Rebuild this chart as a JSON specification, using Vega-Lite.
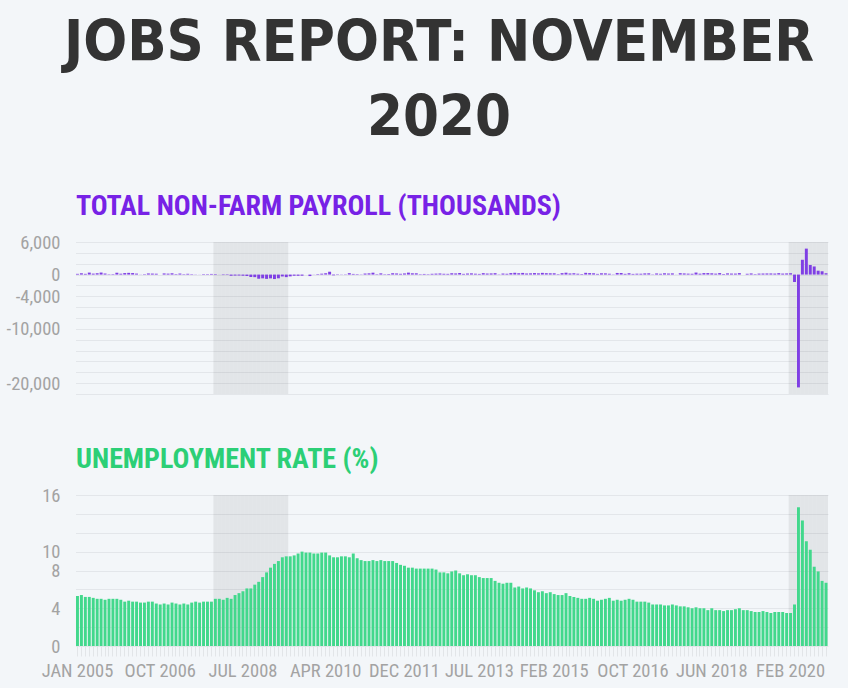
{
  "$schema": "https://vega.github.io/schema/vega-lite/v6.json",
  "background": "#f3f6f9",
  "padding": {"left": 6, "top": 14, "right": 20, "bottom": 8},
  "title": {
    "text": ["JOBS REPORT: NOVEMBER", "2020"],
    "font": "DejaVu Sans Condensed",
    "fontWeight": "bold",
    "fontSize": 57.5,
    "lineHeight": 75,
    "color": "#333333",
    "anchor": "middle",
    "dx": 22,
    "offset": 45
  },
  "data": {
    "values": [
      {"month": "JAN 2005", "payroll": 134, "rate": 5.3, "recession": 0},
      {"month": "FEB 2005", "payroll": 239, "rate": 5.4, "recession": 0},
      {"month": "MAR 2005", "payroll": 134, "rate": 5.2, "recession": 0},
      {"month": "APR 2005", "payroll": 363, "rate": 5.2, "recession": 0},
      {"month": "MAY 2005", "payroll": 175, "rate": 5.1, "recession": 0},
      {"month": "JUN 2005", "payroll": 245, "rate": 5.0, "recession": 0},
      {"month": "JUL 2005", "payroll": 373, "rate": 5.0, "recession": 0},
      {"month": "AUG 2005", "payroll": 196, "rate": 4.9, "recession": 0},
      {"month": "SEP 2005", "payroll": 67, "rate": 5.0, "recession": 0},
      {"month": "OCT 2005", "payroll": 84, "rate": 5.0, "recession": 0},
      {"month": "NOV 2005", "payroll": 337, "rate": 5.0, "recession": 0},
      {"month": "DEC 2005", "payroll": 159, "rate": 4.9, "recession": 0},
      {"month": "JAN 2006", "payroll": 277, "rate": 4.7, "recession": 0},
      {"month": "FEB 2006", "payroll": 315, "rate": 4.8, "recession": 0},
      {"month": "MAR 2006", "payroll": 280, "rate": 4.7, "recession": 0},
      {"month": "APR 2006", "payroll": 182, "rate": 4.7, "recession": 0},
      {"month": "MAY 2006", "payroll": 23, "rate": 4.6, "recession": 0},
      {"month": "JUN 2006", "payroll": 77, "rate": 4.6, "recession": 0},
      {"month": "JUL 2006", "payroll": 207, "rate": 4.7, "recession": 0},
      {"month": "AUG 2006", "payroll": 184, "rate": 4.7, "recession": 0},
      {"month": "SEP 2006", "payroll": 157, "rate": 4.5, "recession": 0},
      {"month": "OCT 2006", "payroll": 2, "rate": 4.4, "recession": 0},
      {"month": "NOV 2006", "payroll": 210, "rate": 4.5, "recession": 0},
      {"month": "DEC 2006", "payroll": 171, "rate": 4.4, "recession": 0},
      {"month": "JAN 2007", "payroll": 236, "rate": 4.6, "recession": 0},
      {"month": "FEB 2007", "payroll": 90, "rate": 4.5, "recession": 0},
      {"month": "MAR 2007", "payroll": 189, "rate": 4.4, "recession": 0},
      {"month": "APR 2007", "payroll": 79, "rate": 4.5, "recession": 0},
      {"month": "MAY 2007", "payroll": 143, "rate": 4.4, "recession": 0},
      {"month": "JUN 2007", "payroll": 78, "rate": 4.6, "recession": 0},
      {"month": "JUL 2007", "payroll": -33, "rate": 4.7, "recession": 0},
      {"month": "AUG 2007", "payroll": -16, "rate": 4.6, "recession": 0},
      {"month": "SEP 2007", "payroll": 85, "rate": 4.7, "recession": 0},
      {"month": "OCT 2007", "payroll": 82, "rate": 4.7, "recession": 0},
      {"month": "NOV 2007", "payroll": 118, "rate": 4.7, "recession": 0},
      {"month": "DEC 2007", "payroll": 97, "rate": 5.0, "recession": 1},
      {"month": "JAN 2008", "payroll": 15, "rate": 5.0, "recession": 1},
      {"month": "FEB 2008", "payroll": -86, "rate": 4.9, "recession": 1},
      {"month": "MAR 2008", "payroll": -80, "rate": 5.1, "recession": 1},
      {"month": "APR 2008", "payroll": -214, "rate": 5.0, "recession": 1},
      {"month": "MAY 2008", "payroll": -182, "rate": 5.4, "recession": 1},
      {"month": "JUN 2008", "payroll": -172, "rate": 5.6, "recession": 1},
      {"month": "JUL 2008", "payroll": -210, "rate": 5.8, "recession": 1},
      {"month": "AUG 2008", "payroll": -259, "rate": 6.1, "recession": 1},
      {"month": "SEP 2008", "payroll": -452, "rate": 6.1, "recession": 1},
      {"month": "OCT 2008", "payroll": -474, "rate": 6.5, "recession": 1},
      {"month": "NOV 2008", "payroll": -765, "rate": 6.8, "recession": 1},
      {"month": "DEC 2008", "payroll": -697, "rate": 7.3, "recession": 1},
      {"month": "JAN 2009", "payroll": -791, "rate": 7.8, "recession": 1},
      {"month": "FEB 2009", "payroll": -703, "rate": 8.3, "recession": 1},
      {"month": "MAR 2009", "payroll": -823, "rate": 8.7, "recession": 1},
      {"month": "APR 2009", "payroll": -687, "rate": 9.0, "recession": 1},
      {"month": "MAY 2009", "payroll": -349, "rate": 9.4, "recession": 1},
      {"month": "JUN 2009", "payroll": -471, "rate": 9.5, "recession": 1},
      {"month": "JUL 2009", "payroll": -329, "rate": 9.5, "recession": 0},
      {"month": "AUG 2009", "payroll": -213, "rate": 9.6, "recession": 0},
      {"month": "SEP 2009", "payroll": -220, "rate": 9.8, "recession": 0},
      {"month": "OCT 2009", "payroll": -204, "rate": 10.0, "recession": 0},
      {"month": "NOV 2009", "payroll": 2, "rate": 9.9, "recession": 0},
      {"month": "DEC 2009", "payroll": -275, "rate": 9.9, "recession": 0},
      {"month": "JAN 2010", "payroll": 23, "rate": 9.8, "recession": 0},
      {"month": "FEB 2010", "payroll": -68, "rate": 9.8, "recession": 0},
      {"month": "MAR 2010", "payroll": 164, "rate": 9.9, "recession": 0},
      {"month": "APR 2010", "payroll": 243, "rate": 9.9, "recession": 0},
      {"month": "MAY 2010", "payroll": 524, "rate": 9.6, "recession": 0},
      {"month": "JUN 2010", "payroll": -137, "rate": 9.4, "recession": 0},
      {"month": "JUL 2010", "payroll": -68, "rate": 9.4, "recession": 0},
      {"month": "AUG 2010", "payroll": -36, "rate": 9.5, "recession": 0},
      {"month": "SEP 2010", "payroll": -52, "rate": 9.5, "recession": 0},
      {"month": "OCT 2010", "payroll": 262, "rate": 9.4, "recession": 0},
      {"month": "NOV 2010", "payroll": 119, "rate": 9.8, "recession": 0},
      {"month": "DEC 2010", "payroll": 87, "rate": 9.3, "recession": 0},
      {"month": "JAN 2011", "payroll": 43, "rate": 9.1, "recession": 0},
      {"month": "FEB 2011", "payroll": 189, "rate": 9.0, "recession": 0},
      {"month": "MAR 2011", "payroll": 225, "rate": 9.0, "recession": 0},
      {"month": "APR 2011", "payroll": 346, "rate": 9.1, "recession": 0},
      {"month": "MAY 2011", "payroll": 77, "rate": 9.0, "recession": 0},
      {"month": "JUN 2011", "payroll": 225, "rate": 9.1, "recession": 0},
      {"month": "JUL 2011", "payroll": 69, "rate": 9.0, "recession": 0},
      {"month": "AUG 2011", "payroll": 110, "rate": 9.0, "recession": 0},
      {"month": "SEP 2011", "payroll": 248, "rate": 9.0, "recession": 0},
      {"month": "OCT 2011", "payroll": 209, "rate": 8.8, "recession": 0},
      {"month": "NOV 2011", "payroll": 141, "rate": 8.6, "recession": 0},
      {"month": "DEC 2011", "payroll": 209, "rate": 8.5, "recession": 0},
      {"month": "JAN 2012", "payroll": 358, "rate": 8.3, "recession": 0},
      {"month": "FEB 2012", "payroll": 237, "rate": 8.3, "recession": 0},
      {"month": "MAR 2012", "payroll": 233, "rate": 8.2, "recession": 0},
      {"month": "APR 2012", "payroll": 78, "rate": 8.2, "recession": 0},
      {"month": "MAY 2012", "payroll": 115, "rate": 8.2, "recession": 0},
      {"month": "JUN 2012", "payroll": 76, "rate": 8.2, "recession": 0},
      {"month": "JUL 2012", "payroll": 143, "rate": 8.2, "recession": 0},
      {"month": "AUG 2012", "payroll": 177, "rate": 8.1, "recession": 0},
      {"month": "SEP 2012", "payroll": 203, "rate": 7.8, "recession": 0},
      {"month": "OCT 2012", "payroll": 146, "rate": 7.8, "recession": 0},
      {"month": "NOV 2012", "payroll": 132, "rate": 7.7, "recession": 0},
      {"month": "DEC 2012", "payroll": 244, "rate": 7.9, "recession": 0},
      {"month": "JAN 2013", "payroll": 211, "rate": 8.0, "recession": 0},
      {"month": "FEB 2013", "payroll": 286, "rate": 7.7, "recession": 0},
      {"month": "MAR 2013", "payroll": 130, "rate": 7.5, "recession": 0},
      {"month": "APR 2013", "payroll": 197, "rate": 7.6, "recession": 0},
      {"month": "MAY 2013", "payroll": 226, "rate": 7.5, "recession": 0},
      {"month": "JUN 2013", "payroll": 162, "rate": 7.5, "recession": 0},
      {"month": "JUL 2013", "payroll": 122, "rate": 7.3, "recession": 0},
      {"month": "AUG 2013", "payroll": 261, "rate": 7.2, "recession": 0},
      {"month": "SEP 2013", "payroll": 190, "rate": 7.2, "recession": 0},
      {"month": "OCT 2013", "payroll": 212, "rate": 7.2, "recession": 0},
      {"month": "NOV 2013", "payroll": 258, "rate": 6.9, "recession": 0},
      {"month": "DEC 2013", "payroll": 47, "rate": 6.7, "recession": 0},
      {"month": "JAN 2014", "payroll": 190, "rate": 6.6, "recession": 0},
      {"month": "FEB 2014", "payroll": 151, "rate": 6.7, "recession": 0},
      {"month": "MAR 2014", "payroll": 272, "rate": 6.7, "recession": 0},
      {"month": "APR 2014", "payroll": 329, "rate": 6.2, "recession": 0},
      {"month": "MAY 2014", "payroll": 246, "rate": 6.3, "recession": 0},
      {"month": "JUN 2014", "payroll": 304, "rate": 6.1, "recession": 0},
      {"month": "JUL 2014", "payroll": 202, "rate": 6.2, "recession": 0},
      {"month": "AUG 2014", "payroll": 230, "rate": 6.1, "recession": 0},
      {"month": "SEP 2014", "payroll": 280, "rate": 5.9, "recession": 0},
      {"month": "OCT 2014", "payroll": 227, "rate": 5.7, "recession": 0},
      {"month": "NOV 2014", "payroll": 312, "rate": 5.8, "recession": 0},
      {"month": "DEC 2014", "payroll": 255, "rate": 5.6, "recession": 0},
      {"month": "JAN 2015", "payroll": 234, "rate": 5.7, "recession": 0},
      {"month": "FEB 2015", "payroll": 238, "rate": 5.5, "recession": 0},
      {"month": "MAR 2015", "payroll": 86, "rate": 5.4, "recession": 0},
      {"month": "APR 2015", "payroll": 262, "rate": 5.4, "recession": 0},
      {"month": "MAY 2015", "payroll": 344, "rate": 5.6, "recession": 0},
      {"month": "JUN 2015", "payroll": 206, "rate": 5.3, "recession": 0},
      {"month": "JUL 2015", "payroll": 254, "rate": 5.2, "recession": 0},
      {"month": "AUG 2015", "payroll": 157, "rate": 5.1, "recession": 0},
      {"month": "SEP 2015", "payroll": 100, "rate": 5.0, "recession": 0},
      {"month": "OCT 2015", "payroll": 321, "rate": 5.0, "recession": 0},
      {"month": "NOV 2015", "payroll": 272, "rate": 5.1, "recession": 0},
      {"month": "DEC 2015", "payroll": 239, "rate": 5.0, "recession": 0},
      {"month": "JAN 2016", "payroll": 126, "rate": 4.8, "recession": 0},
      {"month": "FEB 2016", "payroll": 237, "rate": 4.9, "recession": 0},
      {"month": "MAR 2016", "payroll": 225, "rate": 5.0, "recession": 0},
      {"month": "APR 2016", "payroll": 153, "rate": 5.1, "recession": 0},
      {"month": "MAY 2016", "payroll": 43, "rate": 4.8, "recession": 0},
      {"month": "JUN 2016", "payroll": 297, "rate": 4.9, "recession": 0},
      {"month": "JUL 2016", "payroll": 291, "rate": 4.8, "recession": 0},
      {"month": "AUG 2016", "payroll": 135, "rate": 4.9, "recession": 0},
      {"month": "SEP 2016", "payroll": 249, "rate": 5.0, "recession": 0},
      {"month": "OCT 2016", "payroll": 124, "rate": 4.9, "recession": 0},
      {"month": "NOV 2016", "payroll": 164, "rate": 4.7, "recession": 0},
      {"month": "DEC 2016", "payroll": 155, "rate": 4.7, "recession": 0},
      {"month": "JAN 2017", "payroll": 216, "rate": 4.7, "recession": 0},
      {"month": "FEB 2017", "payroll": 232, "rate": 4.6, "recession": 0},
      {"month": "MAR 2017", "payroll": 50, "rate": 4.4, "recession": 0},
      {"month": "APR 2017", "payroll": 207, "rate": 4.4, "recession": 0},
      {"month": "MAY 2017", "payroll": 145, "rate": 4.4, "recession": 0},
      {"month": "JUN 2017", "payroll": 239, "rate": 4.3, "recession": 0},
      {"month": "JUL 2017", "payroll": 190, "rate": 4.3, "recession": 0},
      {"month": "AUG 2017", "payroll": 221, "rate": 4.4, "recession": 0},
      {"month": "SEP 2017", "payroll": 18, "rate": 4.3, "recession": 0},
      {"month": "OCT 2017", "payroll": 257, "rate": 4.2, "recession": 0},
      {"month": "NOV 2017", "payroll": 210, "rate": 4.2, "recession": 0},
      {"month": "DEC 2017", "payroll": 171, "rate": 4.1, "recession": 0},
      {"month": "JAN 2018", "payroll": 149, "rate": 4.0, "recession": 0},
      {"month": "FEB 2018", "payroll": 371, "rate": 4.1, "recession": 0},
      {"month": "MAR 2018", "payroll": 167, "rate": 4.0, "recession": 0},
      {"month": "APR 2018", "payroll": 273, "rate": 4.0, "recession": 0},
      {"month": "MAY 2018", "payroll": 275, "rate": 3.8, "recession": 0},
      {"month": "JUN 2018", "payroll": 235, "rate": 4.0, "recession": 0},
      {"month": "JUL 2018", "payroll": 173, "rate": 3.8, "recession": 0},
      {"month": "AUG 2018", "payroll": 277, "rate": 3.8, "recession": 0},
      {"month": "SEP 2018", "payroll": 110, "rate": 3.7, "recession": 0},
      {"month": "OCT 2018", "payroll": 225, "rate": 3.8, "recession": 0},
      {"month": "NOV 2018", "payroll": 186, "rate": 3.8, "recession": 0},
      {"month": "DEC 2018", "payroll": 182, "rate": 3.9, "recession": 0},
      {"month": "JAN 2019", "payroll": 269, "rate": 4.0, "recession": 0},
      {"month": "FEB 2019", "payroll": 1, "rate": 3.8, "recession": 0},
      {"month": "MAR 2019", "payroll": 147, "rate": 3.8, "recession": 0},
      {"month": "APR 2019", "payroll": 210, "rate": 3.7, "recession": 0},
      {"month": "MAY 2019", "payroll": 85, "rate": 3.6, "recession": 0},
      {"month": "JUN 2019", "payroll": 182, "rate": 3.6, "recession": 0},
      {"month": "JUL 2019", "payroll": 194, "rate": 3.7, "recession": 0},
      {"month": "AUG 2019", "payroll": 207, "rate": 3.6, "recession": 0},
      {"month": "SEP 2019", "payroll": 208, "rate": 3.5, "recession": 0},
      {"month": "OCT 2019", "payroll": 185, "rate": 3.6, "recession": 0},
      {"month": "NOV 2019", "payroll": 261, "rate": 3.6, "recession": 0},
      {"month": "DEC 2019", "payroll": 184, "rate": 3.6, "recession": 0},
      {"month": "JAN 2020", "payroll": 214, "rate": 3.5, "recession": 0},
      {"month": "FEB 2020", "payroll": 251, "rate": 3.5, "recession": 1},
      {"month": "MAR 2020", "payroll": -1373, "rate": 4.4, "recession": 1},
      {"month": "APR 2020", "payroll": -20787, "rate": 14.7, "recession": 1},
      {"month": "MAY 2020", "payroll": 2725, "rate": 13.3, "recession": 1},
      {"month": "JUN 2020", "payroll": 4781, "rate": 11.1, "recession": 1},
      {"month": "JUL 2020", "payroll": 1761, "rate": 10.2, "recession": 1},
      {"month": "AUG 2020", "payroll": 1493, "rate": 8.4, "recession": 1},
      {"month": "SEP 2020", "payroll": 711, "rate": 7.9, "recession": 1},
      {"month": "OCT 2020", "payroll": 610, "rate": 6.9, "recession": 1},
      {"month": "NOV 2020", "payroll": 245, "rate": 6.7, "recession": 1}
    ]
  },
  "spacing": 42,
  "vconcat": [
    {
      "width": 765,
      "height": 152,
      "title": {
        "text": "TOTAL NON-FARM PAYROLL (THOUSANDS)",
        "font": "Roboto Condensed",
        "fontWeight": "bold",
        "fontSize": 28,
        "color": "#7722e6",
        "anchor": "start",
        "frame": "group",
        "dx": 13,
        "offset": 12
      },
      "layer": [
        {
          "mark": {"type": "bar", "color": "#000000", "width": {"band": 1}},
          "encoding": {
            "x": {
              "field": "month", "type": "ordinal", "sort": null,
              "scale": {"range": [12.5, 765], "paddingInner": 0, "paddingOuter": 0},
              "axis": null
            },
            "opacity": {"condition": {"test": "datum.recession == 1", "value": 0.065}, "value": 0}
          }
        },
        {
          "mark": {"type": "bar", "color": "#7f3fe4", "width": {"band": 0.75}},
          "encoding": {
            "x": {"field": "month", "type": "ordinal", "sort": null},
            "y": {
              "field": "payroll", "type": "quantitative",
              "scale": {"domain": [-22000, 6000], "nice": false, "zero": false},
              "axis": {
                "values": [6000, 4000, 2000, 0, -2000, -4000, -6000, -8000, -10000, -12000, -14000, -16000, -18000, -20000, -22000],
                "labelOverlap": false,
                "labelExpr": "indexof([6000, 0, -4000, -10000, -20000], datum.value) >= 0 ? replace(format(datum.value, ','), '\u2212', '-') : ''"
              }
            }
          }
        }
      ]
    },
    {
      "width": 765,
      "height": 151,
      "title": {
        "text": "UNEMPLOYMENT RATE (%)",
        "font": "Roboto Condensed",
        "fontWeight": "bold",
        "fontSize": 28,
        "color": "#2ccf76",
        "anchor": "start",
        "frame": "group",
        "dx": 13,
        "offset": 12
      },
      "layer": [
        {
          "mark": {"type": "bar", "color": "#000000", "width": {"band": 1}},
          "encoding": {
            "x": {
              "field": "month", "type": "ordinal", "sort": null,
              "scale": {"range": [12.5, 765], "paddingInner": 0, "paddingOuter": 0},
              "axis": {
                "labelExpr": "indexof(['JAN 2005', 'OCT 2006', 'JUL 2008', 'APR 2010', 'DEC 2011', 'JUL 2013', 'FEB 2015', 'OCT 2016', 'JUN 2018', 'FEB 2020'], datum.value) >= 0 ? datum.value : ''",
                "labelAngle": 0,
                "labelOverlap": false,
                "domain": false,
                "ticks": true,
                "tickColor": "#e2e5e8",
                "tickSize": 10,
                "labelPadding": 5,
                "title": null
              }
            },
            "opacity": {"condition": {"test": "datum.recession == 1", "value": 0.065}, "value": 0}
          }
        },
        {
          "mark": {"type": "bar", "color": "#42d88c", "width": {"band": 0.75}},
          "encoding": {
            "x": {"field": "month", "type": "ordinal", "sort": null},
            "y": {
              "field": "rate", "type": "quantitative",
              "scale": {"domain": [0, 16], "nice": false},
              "axis": {
                "values": [0, 2, 4, 6, 8, 10, 12, 14, 16],
                "labelOverlap": false,
                "labelExpr": "indexof([0, 4, 8, 10, 16], datum.value) >= 0 ? format(datum.value, ',') : ''"
              }
            }
          }
        }
      ]
    }
  ],
  "config": {
    "view": {"stroke": null},
    "axis": {
      "labelFont": "Roboto Condensed",
      "labelFontSize": 18.5,
      "labelFontWeight": "normal",
      "labelColor": "#a3a3a3",
      "title": null
    },
    "axisY": {
      "domain": false,
      "ticks": false,
      "gridColor": "#e3e6ea",
      "gridWidth": 1,
      "labelPadding": 3
    }
  }
}
